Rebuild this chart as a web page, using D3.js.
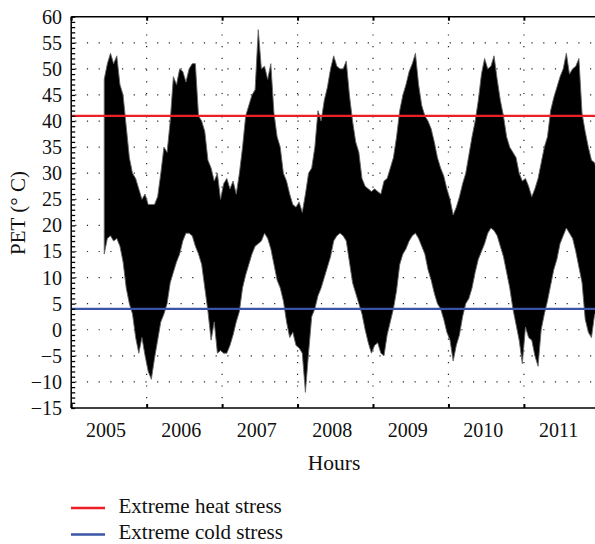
<!DOCTYPE html>
<html><head><meta charset="utf-8">
<script src="https://cdn.jsdelivr.net/npm/d3@7"></script>
<style>
html,body{margin:0;padding:0;background:#fff;}
svg text{font-family:"Liberation Serif","DejaVu Serif",serif;fill:#111;}
</style></head>
<body><svg id="chart" width="595" height="544"></svg>
<script>
// ---- data ----
const yearLabels = ["2005","2006","2007","2008","2009","2010","2011"];
const yTickValues = [-15,-10,-5,0,5,10,15,20,25,30,35,40,45,50,55,60];
const heatThreshold = 41;   // Extreme heat stress
const coldThreshold = 4;    // Extreme cold stress
const firstHalfMonth = 10;  // data starts in June 2005 (half-month index from Jan 2005)

// half-monthly upper envelope of hourly PET (°C)
const upperPET = [
  // 2005 (Jun–Dec)
  48,51,53,51,52.5,47,45,39,33,30,29,27,25,26,
  // 2006
  24,24,24,25.5,30,35,34,40,48.5,47,50,49.5,47.5,50,51,51,41,40,38,32.5,31,28.5,30,25,
  // 2007
  28,29,27,28.5,26,30,35,41,43,45,46,57.5,50,50.5,48,51,41.5,37,35,30,28.5,26,24,23.5,
  // 2008
  24.5,22.5,26,30,31,35,42,40,44,46.5,50,52.5,50.5,50,50,51.5,45,40,36,34,29,27.5,27,26.5,
  // 2009
  27,26.5,26,28.5,29,31,33,37,42,45,47,49.5,51,53,47,43,41,40,38.5,36,33,31,29.5,27,
  // 2010
  25,22,23.5,25.5,28,30,33.5,37,40,44,49,52,50,50.5,52.5,48,44,41,37,35,34,33,30,28.5,
  // 2011
  29,27.5,25.5,27,29,32,35,37,42,44.5,46.5,48.5,50,53,49,50,50.5,52,41.5,38,35,32.5,32,30
];
// half-monthly lower envelope of hourly PET (°C)
const lowerPET = [
  // 2005 (Jun–Dec)
  14.5,17.5,18,17,17.5,16,13,8,5,3,-1.5,-4.5,-1.5,-5,
  // 2006
  -8,-9.5,-5.5,-2,1.5,3,5,9,11,13,14.5,17,18.5,18.5,18,16,14.5,12.5,8,3.5,-2,1.5,-4.5,-4,
  // 2007
  -4.5,-4.5,-3,-1,1.5,3.5,8,10.5,12.5,14.5,16,16.5,17,18.5,17.5,15.5,12.5,9.5,8,5.5,1.5,-1.5,-0.5,-3,
  // 2008
  -3.5,-4.5,-12,-4.5,2.5,4,6.5,8,10,12,14,17,18,18.5,18,17,13,9,7,5,3,0,-2.5,-4.5,
  // 2009
  -3,-2.5,-4.5,-5,-1,1.5,4,7.5,12.5,14.5,15.5,17,18,18.5,17.5,16,14.5,11.5,9.5,7,5,4,2,-0.5,
  // 2010
  -2,-6,-3,-1,2.5,5,6,8,11,13.5,15,16.5,18.5,19.5,19,18,16,14,11,8,4,1,-2,-6.5,
  // 2011
  0.5,-1.5,-2,-5,-7,0,3,5.5,8.5,11.5,13.5,16.5,18,19.5,18.5,17.5,15,12,9,2,-0.5,-1.5,3,2
];

// ---- chart ----
const svg = d3.select("#chart");
const W = 595, H = 544;
const m = {left:71.2, top:16.7, bottom:408};
const x = d3.scaleLinear().domain([0,7]).range([m.left, m.left + 7*75.45]);
const y = d3.scaleLinear().domain([-15,60]).range([m.bottom, m.top]);

const series = upperPET.map((u,i)=>({t:(firstHalfMonth+i+0.5)/24, hi:u, lo:lowerPET[i]}));

svg.append("defs").append("clipPath").attr("id","clip")
  .append("rect").attr("x",m.left).attr("y",m.top).attr("width",W-m.left).attr("height",m.bottom-m.top);

// dotted grid
const gridH = yTickValues.filter(v=>v>-15 && v<60);
svg.append("g").selectAll("line").data(gridH).join("line")
  .attr("x1",m.left+4).attr("x2",W).attr("y1",d=>y(d)).attr("y2",d=>y(d))
  .attr("stroke","#222").attr("stroke-width",1.2).attr("stroke-dasharray","1.2,10.5");
const yearBounds = d3.range(1,7);
svg.append("g").selectAll("line").data(yearBounds).join("line")
  .attr("x1",d=>x(d)).attr("x2",d=>x(d)).attr("y1",m.top+6).attr("y2",m.bottom-4)
  .attr("stroke","#222").attr("stroke-width",1.2).attr("stroke-dasharray","1.2,10.5");

// PET band
const area = d3.area().x(d=>x(d.t)).y0(d=>y(d.lo)).y1(d=>y(d.hi)).curve(d3.curveLinear);
svg.append("path").datum(series).attr("clip-path","url(#clip)")
  .attr("d",area).attr("fill","#000").attr("stroke","#666").attr("stroke-width",0.9);

// thresholds
svg.append("line").attr("x1",m.left).attr("x2",W).attr("y1",y(heatThreshold)).attr("y2",y(heatThreshold))
  .attr("stroke","#ec1f26").attr("stroke-width",2.4);
svg.append("line").attr("x1",m.left).attr("x2",W).attr("y1",y(coldThreshold)).attr("y2",y(coldThreshold))
  .attr("stroke","#3a55a6").attr("stroke-width",2.4);

// axes
const yAxis = d3.axisRight(y).tickValues(d3.range(-15,61,1)).tickSize(4).tickFormat("");
const gy = svg.append("g").attr("transform",`translate(${m.left},0)`).call(yAxis);
gy.select(".domain").remove();
gy.selectAll("line").attr("stroke","#000").attr("stroke-width",1.3);
svg.append("line").attr("x1",m.left).attr("x2",m.left).attr("y1",m.top).attr("y2",m.bottom).attr("stroke","#000").attr("stroke-width",1.5);

svg.append("g").selectAll("text").data(yTickValues).join("text")
  .attr("x",62).attr("y",d=>y(d)).attr("dy","0.35em").attr("text-anchor","end")
  .attr("font-size",20).text(d=>d<0?"\u2212"+Math.abs(d):d);

const xAxisB = d3.axisTop(x).tickValues(d3.range(0,7)).tickSize(4).tickFormat("");
const gxb = svg.append("g").attr("transform",`translate(0,${m.bottom})`).call(xAxisB);
gxb.select(".domain").remove();
gxb.selectAll("line").attr("stroke","#000").attr("stroke-width",2);
const gxt = svg.append("g").attr("transform",`translate(0,${m.top})`).call(d3.axisBottom(x).tickValues(d3.range(0,7)).tickSize(4).tickFormat(""));
gxt.select(".domain").remove();
gxt.selectAll("line").attr("stroke","#000").attr("stroke-width",2);
svg.append("line").attr("x1",m.left).attr("x2",W).attr("y1",m.bottom).attr("y2",m.bottom).attr("stroke","#000").attr("stroke-width",1.5);
svg.append("line").attr("x1",m.left).attr("x2",W).attr("y1",m.top).attr("y2",m.top).attr("stroke","#000").attr("stroke-width",1.5);

svg.append("g").selectAll("text").data(yearLabels).join("text")
  .attr("x",(d,i)=>x(i+0.46)).attr("y",437).attr("text-anchor","middle")
  .attr("font-size",20).text(d=>d);

svg.append("text").attr("x",334).attr("y",470).attr("text-anchor","middle").attr("font-size",21.5).text("Hours");
svg.append("text").attr("transform","translate(25,213) rotate(-90)").attr("text-anchor","middle")
  .attr("font-size",21).text("PET (° C)");

// legend
const legend = [{label:"Extreme heat stress", color:"#ec1f26"},{label:"Extreme cold stress", color:"#3a55a6"}];
const lg = svg.append("g").selectAll("g").data(legend).join("g")
  .attr("transform",(d,i)=>`translate(71,${508+i*26.5})`);
lg.append("line").attr("x1",0).attr("x2",34).attr("stroke",d=>d.color).attr("stroke-width",2.4);
lg.append("text").attr("x",47.5).attr("y",4.5).attr("font-size",21).text(d=>d.label);
</script></body></html>
